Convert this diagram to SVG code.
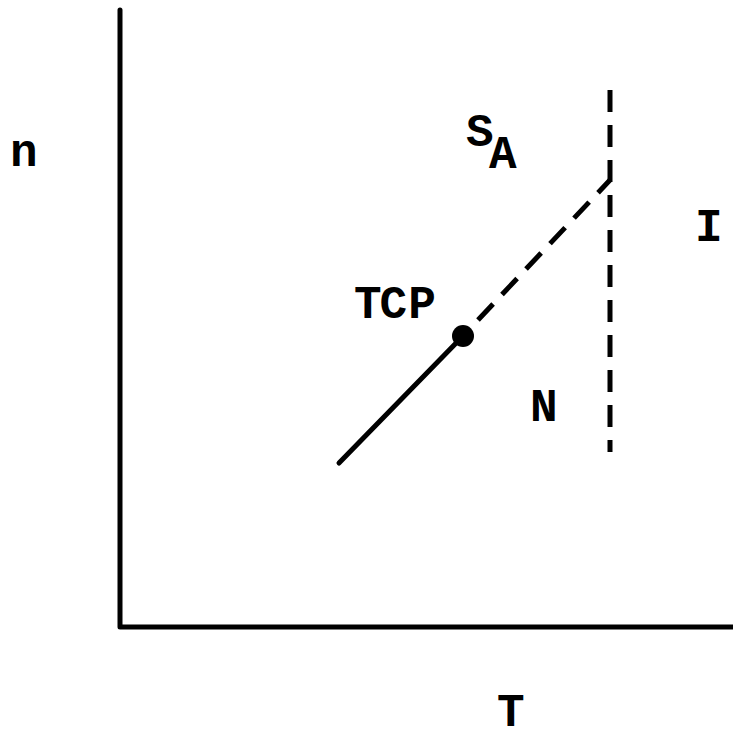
<svg xmlns="http://www.w3.org/2000/svg" width="733" height="740" viewBox="0 0 733 740">
<style>
.lbl{font-family:"Liberation Mono","Courier New",monospace;font-weight:bold;font-size:46px;fill:#000}
.ax{stroke:#000;stroke-width:5;fill:none;stroke-linecap:round;stroke-linejoin:round}
.ln{stroke:#000;stroke-width:5;fill:none;stroke-linecap:round}
.dash{stroke:#000;stroke-width:5;fill:none;stroke-dasharray:22 13}
</style>
<rect width="733" height="740" fill="#fff"/>
<g id="axes">
<path class="ax" d="M120,10 L120,627 L733,627"/>
</g>
<g id="connectors">
<line class="dash" x1="610" y1="90" x2="610" y2="452"/>
<line class="ln" x1="339" y1="463" x2="462" y2="337"/>
<line class="dash" x1="478" y1="320" x2="610" y2="180"/>
</g>
<g id="tcp"><circle cx="463" cy="336" r="11" fill="#000"/><text class="lbl" x="354" y="318" letter-spacing="-2">TC<tspan dx="3">P</tspan></text></g>
<g id="label-n"><text class="lbl" x="10" y="166">n</text></g>
<g id="label-SA"><text class="lbl" x="466" y="146">S</text><text class="lbl" x="489" y="168">A</text></g>
<g id="label-I"><text class="lbl" x="695" y="241">I</text></g>
<g id="label-N"><text class="lbl" x="530" y="421">N</text></g>
<g id="label-T"><text class="lbl" x="497" y="726">T</text></g>
</svg>
